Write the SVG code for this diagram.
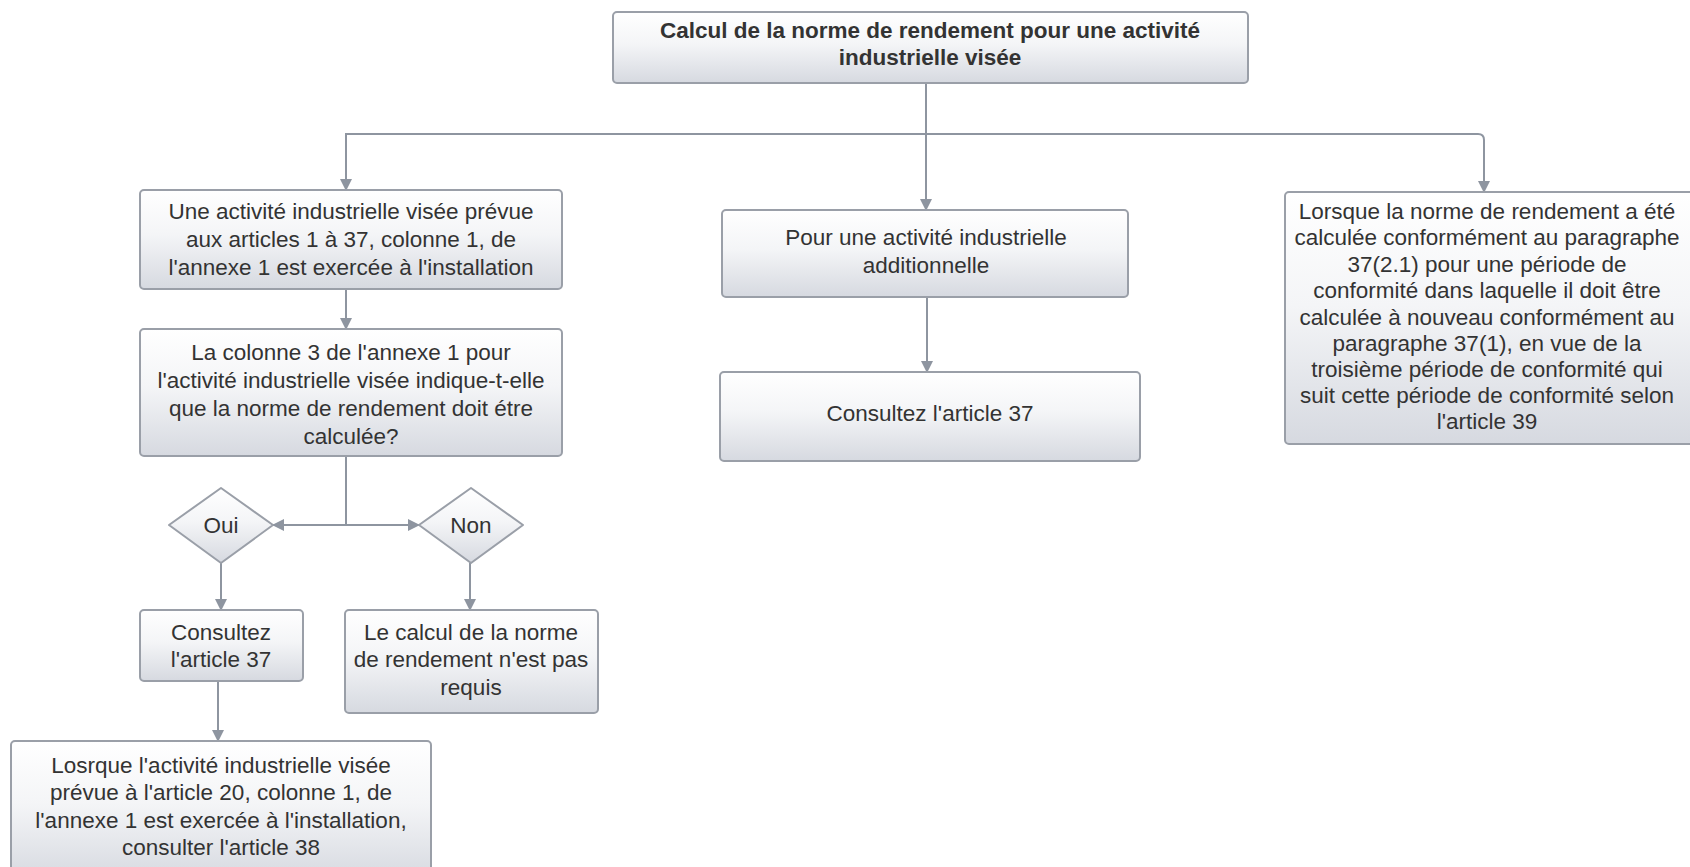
<svg xmlns="http://www.w3.org/2000/svg" width="1690" height="867" viewBox="0 0 1690 867">
  <defs>
    <linearGradient id="boxFill" x1="0" y1="0" x2="0" y2="1">
      <stop offset="0" stop-color="#ffffff"/>
      <stop offset="0.45" stop-color="#f4f5f7"/>
      <stop offset="1" stop-color="#d6d9e0"/>
    </linearGradient>
    <marker id="arrow" viewBox="0 0 12 12" refX="11" refY="6" markerWidth="12" markerHeight="12" markerUnits="userSpaceOnUse" orient="auto">
      <path d="M0,0 L12,6 L0,12 Z" fill="#8e95a0"/>
    </marker>
  </defs>
  <style>
    .box { fill: url(#boxFill); stroke: #9a9fa8; stroke-width: 2; }
    .lbl { font-family: "Liberation Sans", Arial, sans-serif; font-size: 22.5px; fill: #333333; text-anchor: middle; }
    .title { font-weight: bold; font-size: 22.5px; }
    .conn { fill: none; stroke: #8e95a0; stroke-width: 2; }
  </style>
  <rect width="1690" height="867" fill="#ffffff"/>

  <!-- connectors -->
  <g id="connectors">
    <path class="conn" d="M926,83 V210" marker-end="url(#arrow)"/>
    <path class="conn" d="M926,134 H346 V190" marker-end="url(#arrow)"/>
    <path class="conn" d="M926,134 H1478 Q1484,134 1484,140 V192" marker-end="url(#arrow)"/>
    <path class="conn" d="M346,289 V329" marker-end="url(#arrow)"/>
    <path class="conn" d="M346,456 V525 H273" marker-end="url(#arrow)"/>
    <path class="conn" d="M346,525 H419" marker-end="url(#arrow)"/>
    <path class="conn" d="M221,563 V610" marker-end="url(#arrow)"/>
    <path class="conn" d="M470,563 V610" marker-end="url(#arrow)"/>
    <path class="conn" d="M218,681 V741" marker-end="url(#arrow)"/>
    <path class="conn" d="M927,297 V372" marker-end="url(#arrow)"/>
  </g>

  <!-- top node -->
  <g id="n-top">
    <rect class="box" x="613" y="12" width="635" height="71" rx="4"/>
    <text class="lbl title" x="930" y="38">Calcul de la norme de rendement pour une activité</text>
    <text class="lbl title" x="930" y="65">industrielle visée</text>
  </g>

  <!-- left branch -->
  <g id="n-activite">
    <rect class="box" x="140" y="190" width="422" height="99" rx="4"/>
    <text class="lbl" x="351" y="219">Une activité industrielle visée prévue</text>
    <text class="lbl" x="351" y="247">aux articles 1 à 37, colonne 1, de</text>
    <text class="lbl" x="351" y="275">l'annexe 1 est exercée à l'installation</text>
  </g>

  <g id="n-colonne3">
    <rect class="box" x="140" y="329" width="422" height="127" rx="4"/>
    <text class="lbl" x="351" y="360">La colonne 3 de l'annexe 1 pour</text>
    <text class="lbl" x="351" y="388">l'activité industrielle visée indique-t-elle</text>
    <text class="lbl" x="351" y="416">que la norme de rendement doit étre</text>
    <text class="lbl" x="351" y="444">calculée?</text>
  </g>

  <g id="n-oui">
    <path class="box" d="M221,488 L273,525 L221,563 L169,525 Z" stroke-linejoin="round"/>
    <text class="lbl" x="221" y="533">Oui</text>
  </g>

  <g id="n-non">
    <path class="box" d="M471,488 L523,525 L471,563 L419,525 Z" stroke-linejoin="round"/>
    <text class="lbl" x="471" y="533">Non</text>
  </g>

  <g id="n-consultez37a">
    <rect class="box" x="140" y="610" width="163" height="71" rx="4"/>
    <text class="lbl" x="221" y="640">Consultez</text>
    <text class="lbl" x="221" y="667">l'article 37</text>
  </g>

  <g id="n-nonrequis">
    <rect class="box" x="345" y="610" width="253" height="103" rx="4"/>
    <text class="lbl" x="471" y="640">Le calcul de la norme</text>
    <text class="lbl" x="471" y="667">de rendement n'est pas</text>
    <text class="lbl" x="471" y="695">requis</text>
  </g>

  <g id="n-article38">
    <rect class="box" x="11" y="741" width="420" height="140" rx="4"/>
    <text class="lbl" x="221" y="773">Losrque l'activité industrielle visée</text>
    <text class="lbl" x="221" y="800">prévue à l'article 20, colonne 1, de</text>
    <text class="lbl" x="221" y="828">l'annexe 1 est exercée à l'installation,</text>
    <text class="lbl" x="221" y="855">consulter l'article 38</text>
  </g>

  <!-- middle branch -->
  <g id="n-additionnelle">
    <rect class="box" x="722" y="210" width="406" height="87" rx="4"/>
    <text class="lbl" x="926" y="245">Pour une activité industrielle</text>
    <text class="lbl" x="926" y="273">additionnelle</text>
  </g>

  <g id="n-consultez37b">
    <rect class="box" x="720" y="372" width="420" height="89" rx="4"/>
    <text class="lbl" x="930" y="421">Consultez l'article 37</text>
  </g>

  <!-- right branch -->
  <g id="n-article39">
    <rect class="box" x="1285" y="192" width="410" height="252" rx="4"/>
    <text class="lbl" x="1487" y="219">Lorsque la norme de rendement a été</text>
    <text class="lbl" x="1487" y="245">calculée conformément au paragraphe</text>
    <text class="lbl" x="1487" y="272">37(2.1) pour une période de</text>
    <text class="lbl" x="1487" y="298">conformité dans laquelle il doit être</text>
    <text class="lbl" x="1487" y="325">calculée à nouveau conformément au</text>
    <text class="lbl" x="1487" y="351">paragraphe 37(1), en vue de la</text>
    <text class="lbl" x="1487" y="377">troisième période de conformité qui</text>
    <text class="lbl" x="1487" y="403">suit cette période de conformité selon</text>
    <text class="lbl" x="1487" y="429">l'article 39</text>
  </g>
</svg>
